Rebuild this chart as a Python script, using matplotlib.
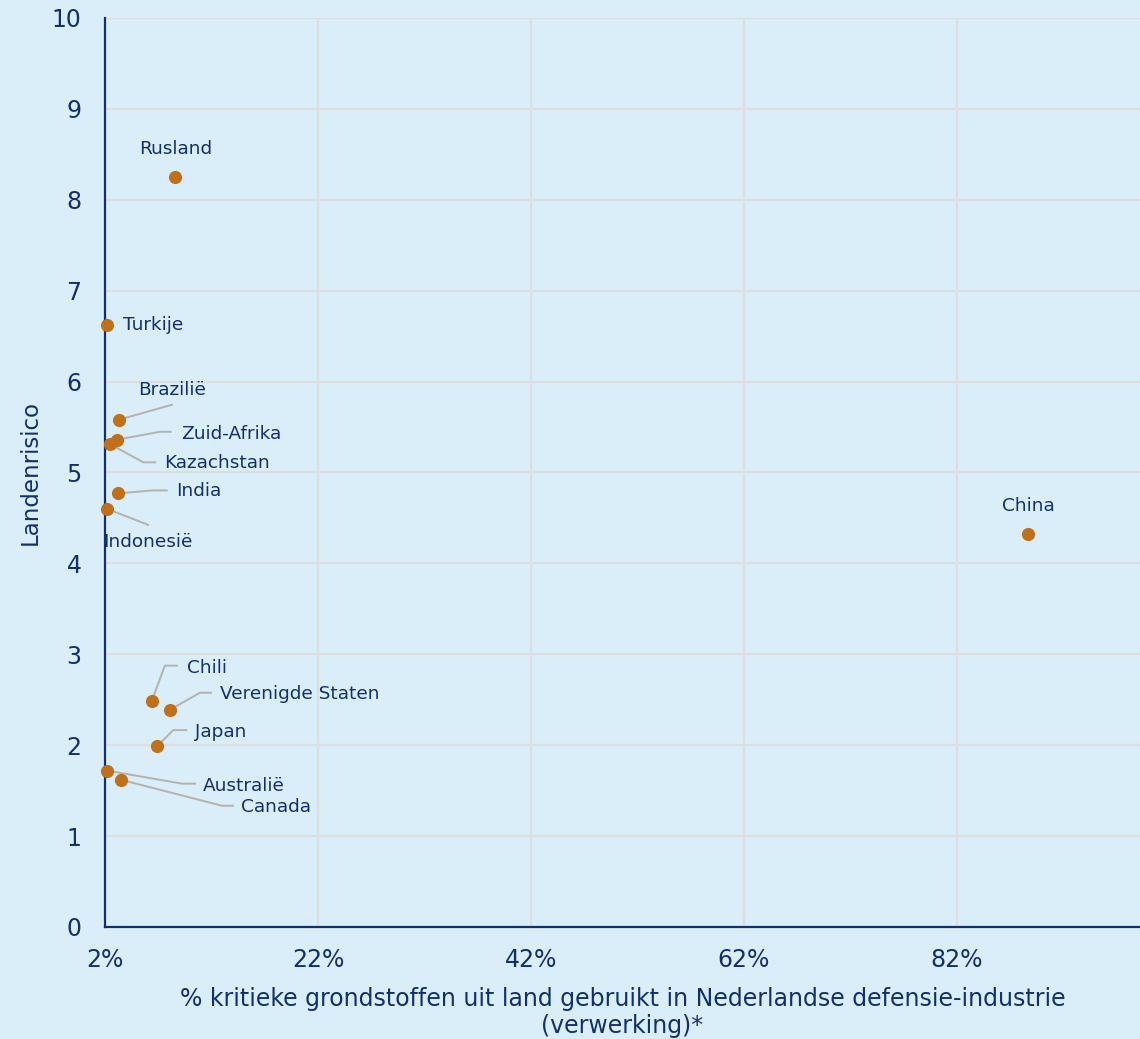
import matplotlib.pyplot as plt
import matplotlib.transforms as mtransforms

# Landenrisico versus aandeel kritieke grondstoffen
landen = ["Rusland", "Turkije", "Brazilië", "Zuid-Afrika", "Kazachstan", "India",
          "Indonesië", "China", "Chili", "Verenigde Staten", "Japan", "Australië", "Canada"]
aandeel = [8.6, 2.2, 3.3, 3.1, 2.5, 3.2, 2.2, 88.7, 6.4, 8.1, 6.9, 2.2, 3.5]
risico = [8.25, 6.62, 5.58, 5.36, 5.31, 4.77, 4.60, 4.32, 2.49, 2.39, 1.99, 1.72, 1.62]

x_ticks = [2, 22, 42, 62, 82]
x_ticklabels = ["2%", "22%", "42%", "62%", "82%"]
y_ticks = list(range(0, 11))

BG = "#d9eef8"
NAVY = "#12306a"
DOT = "#c0701a"
GRID = "#dedede"
LEADER = "#b5b1ae"

# label layout in pixels relative to the dot: (leader vertices, text offset, ha)
layout = {
    "Rusland": ([], (0, 28), "center"),
    "Turkije": ([], (16, 0), "left"),
    "Brazilië": ([(53, 15)], (53, 30), "center"),
    "Zuid-Afrika": ([(43, 8), (54, 8)], (64, 6), "left"),
    "Kazachstan": ([(33, -18), (45, -18)], (54, -19), "left"),
    "India": ([(35, 3), (49, 3)], (58, 2), "left"),
    "Indonesië": ([(41, -16)], (41, -33), "center"),
    "China": ([], (0, 28), "center"),
    "Chili": ([(13, 35), (25, 35)], (35, 33), "left"),
    "Verenigde Staten": ([(30, 17), (41, 17)], (50, 16), "left"),
    "Japan": ([(16, 16), (29, 16)], (38, 14), "left"),
    "Australië": ([(75, -13), (88, -13)], (96, -15), "left"),
    "Canada": ([(101, -26), (112, -26)], (120, -27), "left"),
}

plt.rcParams["font.family"] = ["DejaVu Sans"]

fig = plt.figure(figsize=(11.4, 10.39), dpi=100, facecolor=BG)
ax = fig.add_axes([105 / 1140, 112 / 1039, 1 - 105 / 1140, 909 / 1039])
ax.set_facecolor(BG)

ax.set_xlim(2, 99.2)
ax.set_ylim(0, 10)
ax.set_xticks(x_ticks)
ax.set_xticklabels(x_ticklabels)
ax.set_yticks(y_ticks)
ax.grid(True, color=GRID, linewidth=1.6, zorder=0)
ax.set_axisbelow(True)

for side in ["top", "right"]:
    ax.spines[side].set_visible(False)
for side in ["left", "bottom"]:
    ax.spines[side].set_color(NAVY)
    ax.spines[side].set_linewidth(1.6)
    ax.spines[side].set_zorder(3)

ax.tick_params(axis="both", length=0, labelsize=17, colors=NAVY)
ax.tick_params(axis="y", pad=17)
ax.tick_params(axis="x", pad=15)

ax.set_xlabel("% kritieke grondstoffen uit land gebruikt in Nederlandse defensie-industrie\n(verwerking)*",
              fontsize=17, color=NAVY, labelpad=11, linespacing=1.15)
ax.set_ylabel("Landenrisico", fontsize=16.5, color=NAVY, va="center")
ax.yaxis.set_label_coords(-75 / 1035, 0.5)

# leader lines first, dots on top
for naam, x, y in zip(landen, aandeel, risico):
    verts, tekst_off, ha = layout[naam]
    if verts:
        trans = mtransforms.Affine2D() + mtransforms.ScaledTranslation(x, y, ax.transData)
        xs = [0] + [v[0] for v in verts]
        ys = [0] + [v[1] for v in verts]
        ax.plot(xs, ys, color=LEADER, linewidth=1.4, transform=trans, zorder=4, clip_on=False)
    ax.annotate(naam, (x, y), xytext=tekst_off, textcoords="offset pixels",
                ha=ha, va="center", fontsize=13.3, color=NAVY, zorder=6)

ax.scatter(aandeel, risico, s=90, color=DOT, zorder=5, clip_on=False, linewidths=0)

fig.savefig("out.png", dpi=100, facecolor=BG)
